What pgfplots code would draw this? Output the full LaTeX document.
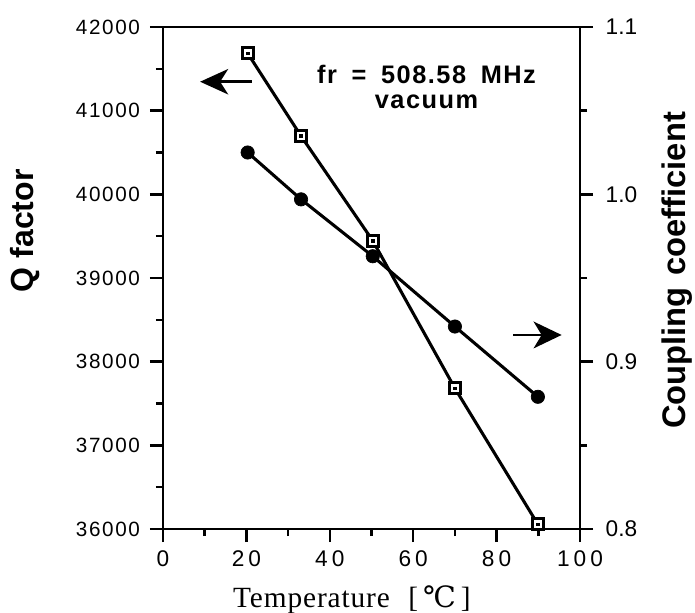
\documentclass[border=0pt]{standalone}
\usepackage{fontspec}
\setmainfont{Liberation Sans}
\newfontfamily\serifx[LetterSpace=3]{Liberation Serif}
\newfontfamily\symserif{DejaVu Serif}
\newfontfamily\xtickf[LetterSpace=18]{Liberation Sans}
\newfontfamily\ytickf[LetterSpace=8]{Liberation Sans}
\newfontfamily\annof[LetterSpace=6]{Liberation Sans}
\usepackage{pgfplots}
\pgfplotsset{compat=1.18}
\usepackage{pgfplotstable}
\usetikzlibrary{arrows.meta}

\pgfplotstableread{
T Q
20.3 41686
33.1 40697
50.3 39446
70.0 37682
89.9 36056
}\qdata
\pgfplotstableread{
T k
20.3 1.025
33.1 0.997
50.3 0.963
70.0 0.921
89.9 0.879
}\kdata

\pgfplotsset{
  common/.style={
    scale only axis, width=312.75pt, height=376.5pt,
    xmin=0, xmax=100,
    tick align=outside,
    major tick length=9.75pt, minor tick length=5.25pt,
    every tick/.append style={black, line width=1.8pt},
    axis line style={line width=2pt},
    /pgf/number format/assume math mode=true,
    scaled y ticks=false, scaled x ticks=false,
    clip=false,
  }
}

\begin{document}
\begin{tikzpicture}
\path[use as bounding box] (-122.25pt,-63pt) rectangle (399pt,396.75pt);
\begin{axis}[common,
  ymin=36000, ymax=42000,
  xtick={0,20,...,100}, ytick={36000,37000,...,42000},
  minor x tick num=1, minor y tick num=1,
  xtick pos=bottom, ytick pos=left,
  xticklabel style={font=\xtickf\fontsize{17}{19}\selectfont},
  xticklabel shift=3pt,
  yticklabel style={font=\ytickf\fontsize{15.5}{17}\selectfont},
  /pgf/number format/1000 sep={},
  yticklabel shift=4pt,
  xlabel={\serifx\fontsize{22}{24}\selectfont Temperature\hspace{14pt}[\,{\symserif ℃}\,]},
  xlabel style={at={(axis description cs:0.453,-0.141)}, anchor=center},
  ylabel={Q factor},
  ylabel style={at={(axis description cs:-0.330,0.594)}, anchor=center,
    font=\bfseries\fontsize{24}{27}\selectfont},
]
\addplot[black, line width=2.3pt, mark=square*, mark size=4.15pt,
  mark options={fill=white, line width=2.2pt}] table[x=T,y=Q]{\qdata};
\addplot[black, only marks, mark=square*, mark size=1pt] table[x=T,y=Q]{\qdata};
\draw[line width=2.2pt, -{Stealth[length=21pt,width=19pt,inset=6pt]}]
  (axis cs:21.3,41346) -- (axis cs:8.9,41346);
\draw[line width=2.2pt, -{Stealth[length=21pt,width=20pt,inset=6pt]}]
  (axis cs:84,38319) -- (axis cs:95.6,38319);
\node[align=center, font=\annof\bfseries\fontsize{19}{19}\selectfont]
  at (axis cs:63.2,41280) {fr\hspace{11pt}=\hspace{11pt}508.58\hspace{11pt}MHz\\vacuum};
\end{axis}
\begin{axis}[common,
  ymin=0.8, ymax=1.1,
  axis x line=none, axis y line*=right,
  ytick={0.8,0.9,1.0,1.1}, minor y tick num=1,
  yticklabel style={font=\fontsize{17}{19}\selectfont},
  /pgf/number format/fixed, /pgf/number format/fixed zerofill,
  /pgf/number format/precision=1,
  yticklabel shift=6pt,
  ylabel={Coupling\hspace{9pt}coefficient},
  ylabel style={at={(axis description cs:1.234,0.515)}, anchor=center,
    font=\bfseries\fontsize{24.5}{27}\selectfont},
]
\addplot[black, line width=2.3pt, mark=*, mark size=5pt,
  mark options={line width=0.5pt}] table[x=T,y=k]{\kdata};
\end{axis}
\end{tikzpicture}
\end{document}
